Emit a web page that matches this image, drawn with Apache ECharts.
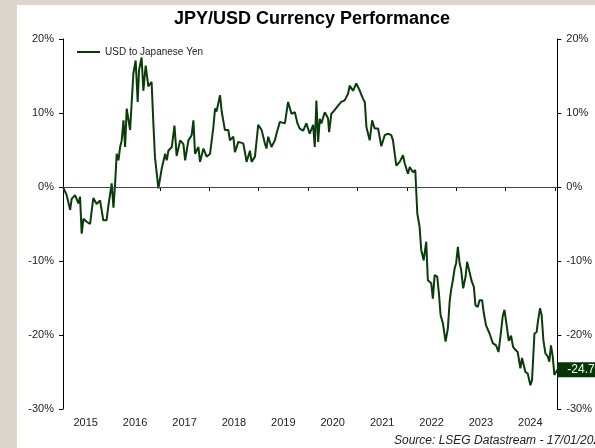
<!DOCTYPE html>
<html><head><meta charset="utf-8">
<script src="https://cdn.jsdelivr.net/npm/echarts@6/dist/echarts.min.js"></script>
<style>html,body{margin:0;padding:0;background:#ddd6ca}#c{width:595px;height:448px}</style>
</head><body><div id="c"></div>
<script>
const chartTitle = 'JPY/USD Currency Performance';
const seriesName = 'USD to Japanese Yen';
const sourceText = 'Source: LSEG Datastream - 17/01/2025';
const xStart = '2015-01-16';
const xEnd = '2025-01-17';
const yMin = -30, yMax = 20, yInterval = 10;

const dates = [
'2015-01-16','2015-02-12','2015-03-10','2015-03-21','2015-04-15','2015-05-10','2015-05-22','2015-06-03','2015-06-16','2015-07-10',
'2015-08-04','2015-08-28','2015-09-22','2015-10-17','2015-11-10','2015-12-04','2015-12-17','2016-01-11','2016-01-24','2016-02-05',
'2016-02-17','2016-03-01','2016-03-13','2016-03-25','2016-04-07','2016-04-19','2016-05-01','2016-05-26','2016-06-19','2016-07-06',
'2016-07-21','2016-07-31','2016-08-19','2016-09-01','2016-09-18','2016-10-08','2016-11-01','2016-11-14','2016-11-26','2016-12-21',
'2017-01-15','2017-02-09','2017-02-21','2017-03-05','2017-03-30','2017-04-19','2017-05-05','2017-05-31','2017-06-24','2017-07-07',
'2017-07-31','2017-08-24','2017-09-06','2017-09-18','2017-10-13','2017-10-25','2017-11-19','2017-12-13','2018-01-07','2018-01-31',
'2018-02-13','2018-02-24','2018-03-22','2018-04-03','2018-04-27','2018-05-22','2018-06-03','2018-06-28','2018-07-10','2018-08-04',
'2018-08-16','2018-09-09','2018-09-22','2018-10-04','2018-10-29','2018-11-10','2018-12-05','2018-12-29','2019-01-23','2019-02-16',
'2019-02-28','2019-03-13','2019-04-06','2019-05-01','2019-05-13','2019-06-07','2019-06-19','2019-07-14','2019-08-07','2019-09-01',
'2019-09-26','2019-10-15','2019-11-01','2019-11-26','2019-12-20','2020-01-14','2020-02-08','2020-02-20','2020-03-03','2020-03-16',
'2020-03-28','2020-04-09','2020-05-04','2020-05-28','2020-06-05','2020-06-22','2020-07-16','2020-08-10','2020-09-03','2020-09-28',
'2020-10-23','2020-11-04','2020-11-29','2020-12-23','2021-01-18','2021-02-11','2021-02-24','2021-03-08','2021-04-01','2021-04-19',
'2021-05-08','2021-06-02','2021-06-26','2021-07-21','2021-08-15','2021-09-08','2021-09-20','2021-10-03','2021-10-15','2021-11-09',
'2021-12-03','2021-12-16','2022-01-09','2022-01-22','2022-02-15','2022-03-04','2022-03-19','2022-04-05','2022-04-17','2022-05-05',
'2022-05-24','2022-06-05','2022-06-30','2022-07-12','2022-07-25','2022-08-13','2022-08-26','2022-09-07','2022-09-24','2022-10-14',
'2022-10-31','2022-11-13','2022-11-24','2022-12-07','2022-12-20','2022-12-31','2023-01-13','2023-01-25','2023-02-06','2023-02-21',
'2023-03-11','2023-03-22','2023-04-09','2023-04-26','2023-05-11','2023-05-23','2023-06-09','2023-06-22','2023-07-11','2023-07-24',
'2023-08-09','2023-09-04','2023-09-28','2023-10-22','2023-11-09','2023-11-24','2023-12-10','2023-12-23','2024-01-07','2024-01-24',
'2024-02-10','2024-02-25','2024-03-13','2024-03-30','2024-04-19','2024-05-01','2024-05-14','2024-05-26','2024-06-12','2024-07-02',
'2024-07-14','2024-08-01','2024-08-17','2024-08-25','2024-09-11','2024-09-23','2024-10-06','2024-10-21','2024-11-07','2024-11-19',
'2024-12-01','2024-12-14','2024-12-26','2025-01-07','2025-01-17'
];
const values = [
0.0,-1.1,-3.1,-1.6,-1.1,-2.2,-1.3,-6.3,-4.3,-4.7,
-5.0,-1.5,-2.3,-1.8,-4.5,-4.5,-2.6,0.5,-2.8,0.4,
4.5,3.6,5.4,6.3,9.0,5.4,10.6,7.7,15.3,17.1,
11.5,15.8,17.5,13.0,16.4,13.6,14.2,8.6,4.0,-0.2,
2.5,4.5,3.6,4.9,5.4,8.3,4.2,6.3,5.8,3.6,
6.3,7.0,9.0,4.5,5.4,3.4,5.2,4.1,4.5,8.0,
10.6,10.2,12.4,10.2,7.7,7.7,6.3,6.8,4.7,6.1,
6.3,5.9,4.7,3.4,4.9,3.4,4.1,8.4,7.7,5.9,
5.2,6.8,5.4,6.3,7.2,8.8,9.0,8.6,11.5,9.9,
10.1,8.6,7.9,7.6,8.6,7.2,8.4,5.4,11.7,6.1,
9.2,8.6,10.1,9.3,7.4,9.9,10.4,11.0,11.5,11.7,
12.6,13.7,13.0,14.0,13.0,11.9,11.5,8.1,6.3,9.0,
7.9,7.9,5.5,7.0,7.2,7.0,6.3,4.5,2.9,3.4,
4.3,3.2,1.8,2.7,2.0,2.3,-3.6,-5.4,-8.5,-9.9,
-7.4,-12.6,-13.0,-15.1,-11.9,-12.1,-14.4,-17.3,-18.4,-20.9,
-19.1,-15.5,-13.9,-12.6,-11.0,-10.3,-8.1,-10.2,-11.2,-13.7,
-12.1,-10.1,-11.5,-12.8,-13.5,-16.0,-16.2,-15.3,-15.3,-17.1,
-18.7,-19.8,-21.1,-21.4,-22.3,-20.2,-17.5,-16.6,-18.5,-20.8,
-20.1,-21.6,-22.0,-22.3,-24.5,-23.1,-24.1,-25.0,-25.2,-26.8,
-26.1,-19.8,-19.6,-18.4,-16.4,-17.3,-20.7,-22.5,-22.9,-23.6,
-21.4,-22.9,-25.4,-25.4,-24.7
];

const FONT = 'Liberation Sans, Arial, Helvetica, sans-serif';
const LINE_COLOR = '#0a3c0a';
const DAY = 86400000;
const HALF_YEAR = 182.6 * DAY;
const xMinMs = new Date(xStart + 'T00:00:00').getTime();
const xMaxMs = new Date(xEnd + 'T00:00:00').getTime();
const seriesData = dates.map((d, i) => [d, values[i]]);

const chart = echarts.init(document.getElementById('c'), null, {renderer: 'canvas'});
const yAxisCommon = {
  type: 'value', min: yMin, max: yMax, interval: yInterval,
  axisLine: {show: true, lineStyle: {color: '#000', width: 1}},
  axisTick: {show: true, inside: false, length: 4, lineStyle: {color: '#000'}},
  splitLine: {show: false},
  axisLabel: {formatter: '{value}%', fontFamily: FONT, fontSize: 11, color: '#222', margin: 9}
};
chart.setOption({
  backgroundColor: '#ddd6ca',
  animation: false,
  title: {
    text: chartTitle, left: 312, top: 10, textAlign: 'center', padding: 0,
    textStyle: {fontFamily: FONT, fontSize: 18, fontWeight: 'bold', color: '#000'}
  },
  legend: {
    left: 72, top: 42, itemWidth: 23, itemHeight: 2, itemGap: 5, icon: 'rect',
    textStyle: {fontFamily: FONT, fontSize: 10, color: '#222', padding: [0, 0, 0, 0]},
    data: [seriesName]
  },
  grid: {left: 63, right: 36, top: 39, bottom: 39, containLabel: false},
  xAxis: [
    {
      type: 'time', min: xMinMs, max: xMaxMs,
      minInterval: 365 * DAY, maxInterval: 366 * DAY,
      axisLine: {show: true, lineStyle: {color: '#000', width: 1}},
      axisTick: {show: true, inside: false, length: 4, lineStyle: {color: '#000'}},
      axisLabel: {show: false},
      splitLine: {show: false}
    },
    {
      type: 'time', min: xMinMs - HALF_YEAR, max: xMaxMs - HALF_YEAR,
      minInterval: 365 * DAY, maxInterval: 366 * DAY,
      position: 'bottom',
      axisLine: {show: false}, axisTick: {show: false}, splitLine: {show: false},
      axisLabel: {
        show: true, formatter: '{yyyy}', fontFamily: FONT, fontSize: 11, color: '#222', margin: 8,
        showMinLabel: false, showMaxLabel: false, hideOverlap: false
      }
    }
  ],
  yAxis: [
    Object.assign({}, yAxisCommon, {position: 'left'}),
    Object.assign({}, yAxisCommon, {position: 'right'})
  ],
  graphic: [
    {type: 'rect', silent: true, z: -100, shape: {x: 17, y: 5, width: 578, height: 443}, style: {fill: '#ffffff'}},
    {type: 'text', silent: true, left: 394, top: 435,
     style: {text: sourceText, font: 'italic 12px ' + FONT, fill: '#222'}}
  ],
  series: [{
    name: seriesName, type: 'line', xAxisIndex: 0, yAxisIndex: 0,
    data: seriesData, symbol: 'none', showSymbol: false,
    lineStyle: {color: LINE_COLOR, width: 2},
    itemStyle: {color: LINE_COLOR},
    endLabel: {
      show: true, distance: 0,
      formatter: p => p.value[1].toFixed(1),
      backgroundColor: '#063606', color: '#fff', fontFamily: FONT, fontSize: 12,
      padding: [2, 6, 1, 10]
    },
    markLine: {
      silent: true, symbol: ['none', 'none'], label: {show: false},
      lineStyle: {color: '#444', width: 1, type: 'solid'},
      data: [{yAxis: 0}]
    }
  }]
});
</script>
</body></html>
